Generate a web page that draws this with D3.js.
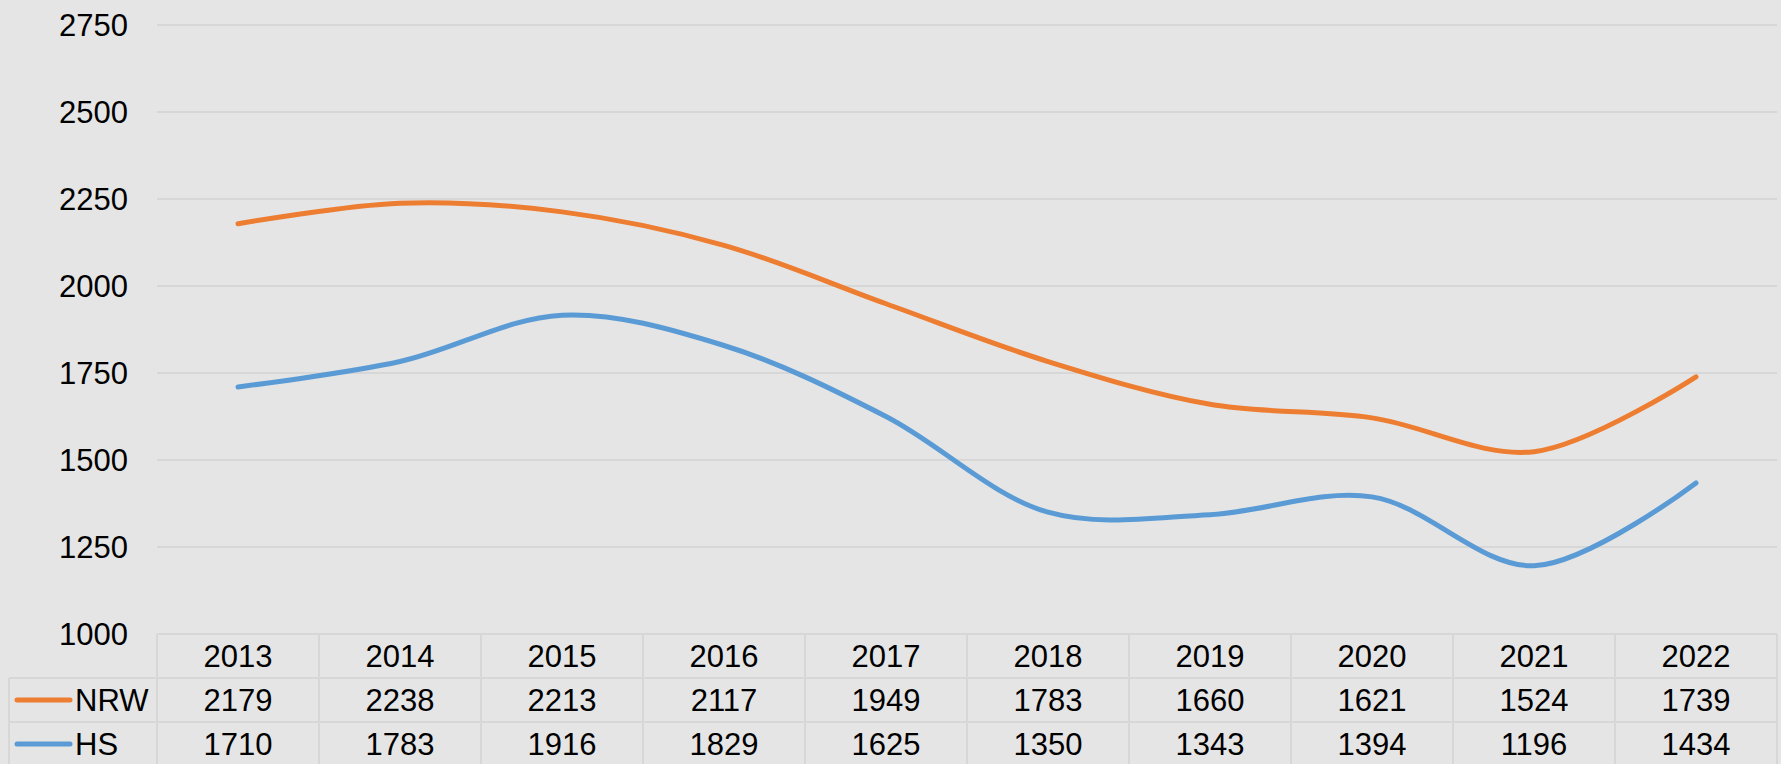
<!DOCTYPE html>
<html><head><meta charset="utf-8">
<script src="https://cdn.jsdelivr.net/npm/d3@7"></script>
<style>body{margin:0;background:#e5e5e5;}svg{display:block;}</style>
</head><body>
<script>
const years = ["2013","2014","2015","2016","2017","2018","2019","2020","2021","2022"];
const nrw = [2179,2238,2213,2117,1949,1783,1660,1621,1524,1739];
const hs  = [1710,1783,1916,1829,1625,1350,1343,1394,1196,1434];
const yTicks = [1000,1250,1500,1750,2000,2250,2500,2750];
const seriesNames = ["NRW","HS"];
const seriesColors = ["#ED7D31","#5B9BD5"];

(function(){
const W=1781,H=764;
const pL=157,pR=1777,pT=25,pB=634;
const font="'Liberation Sans', Arial, sans-serif";
const fs=31;
const svg=d3.select("body").append("svg").attr("width",W).attr("height",H);
svg.append("rect").attr("width",W).attr("height",H).attr("fill","#e5e5e5");

const x=d3.scaleBand().domain(years).range([pL,pR]).padding(0);
const y=d3.scaleLinear().domain([1000,2750]).range([pB,pT]);

svg.append("g").selectAll("line").data(yTicks.slice(1)).join("line")
 .attr("x1",pL).attr("x2",pR).attr("y1",d=>y(d)).attr("y2",d=>y(d))
 .attr("stroke","#d7d7d7").attr("stroke-width",2);
svg.append("g").selectAll("text").data(yTicks).join("text")
 .attr("x",128).attr("y",d=>y(d)).attr("text-anchor","end").attr("dominant-baseline","central")
 .attr("font-family",font).attr("font-size",fs).attr("fill","#000").text(d=>d);

const line=d3.line().x((d,i)=>x(years[i])+x.bandwidth()/2).y(d=>y(d)).curve(d3.curveCatmullRom.alpha(0.5));
[nrw,hs].forEach((s,k)=>{
 svg.append("path").datum(s).attr("d",line).attr("fill","none")
  .attr("stroke",seriesColors[k]).attr("stroke-width",5).attr("stroke-linecap","round");
});

const rowTop=[634,678,722], rowH=44;
const g=svg.append("g");
const bc="#d7d7d7";
g.append("line").attr("x1",pL).attr("x2",pR).attr("y1",rowTop[0]).attr("y2",rowTop[0]).attr("stroke",bc).attr("stroke-width",2);
g.append("line").attr("x1",9).attr("x2",pR).attr("y1",rowTop[1]).attr("y2",rowTop[1]).attr("stroke",bc).attr("stroke-width",2);
g.append("line").attr("x1",9).attr("x2",pR).attr("y1",rowTop[2]).attr("y2",rowTop[2]).attr("stroke",bc).attr("stroke-width",2);
const vx=years.map(d=>x(d)).concat([pR]);
g.append("g").selectAll("line").data(vx).join("line").attr("x1",d=>d).attr("x2",d=>d)
 .attr("y1",rowTop[0]).attr("y2",H).attr("stroke",bc).attr("stroke-width",2);
g.append("line").attr("x1",9).attr("x2",9).attr("y1",rowTop[1]).attr("y2",H).attr("stroke",bc).attr("stroke-width",2);
g.append("g").selectAll("text").data(years).join("text").attr("x",d=>x(d)+x.bandwidth()/2).attr("y",rowTop[0]+rowH/2)
 .attr("text-anchor","middle").attr("dominant-baseline","central").attr("font-family",font).attr("font-size",fs).text(d=>d);
[nrw,hs].forEach((s,k)=>{
 const cy=rowTop[k+1]+rowH/2;
 g.append("g").selectAll("text").data(s).join("text").attr("x",(d,i)=>x(years[i])+x.bandwidth()/2).attr("y",cy)
  .attr("text-anchor","middle").attr("dominant-baseline","central").attr("font-family",font).attr("font-size",fs).text(d=>d);
 g.append("line").attr("x1",17).attr("x2",70).attr("y1",cy).attr("y2",cy).attr("stroke",seriesColors[k]).attr("stroke-width",5).attr("stroke-linecap","round");
 g.append("text").attr("x",75).attr("y",cy).attr("dominant-baseline","central").attr("font-family",font).attr("font-size",fs).text(seriesNames[k]);
});
})();
</script>
</body></html>
